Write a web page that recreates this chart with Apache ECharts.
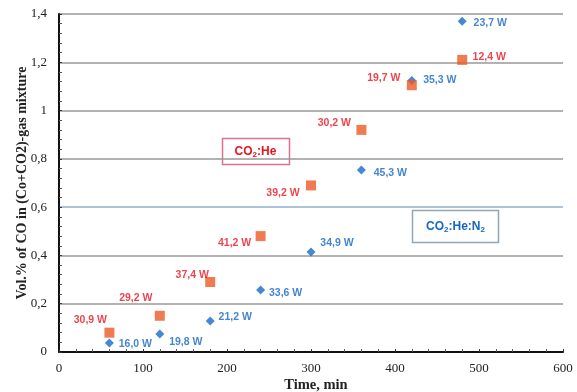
<!DOCTYPE html>
<html><head><meta charset="utf-8">
<script src="https://cdn.jsdelivr.net/npm/echarts@6/dist/echarts.min.js"></script>
<style>html,body{margin:0;padding:0;background:#fff}#c{width:577px;height:392px}</style>
</head><body><div id="c"></div>
<script>
// Data
const timeMin = [60, 120, 180, 240, 300, 360, 420, 480];
const coHe = [0.08, 0.15, 0.29, 0.48, 0.69, 0.92, 1.105, 1.21];
const coHeLabels = ['30,9 W', '29,2 W', '37,4 W', '41,2 W', '39,2 W', '30,2 W', '19,7 W', '12,4 W'];
const coHeN2 = [0.037, 0.075, 0.128, 0.257, 0.414, 0.754, 1.125, 1.37];
const coHeN2Labels = ['16,0 W', '19,8 W', '21,2 W', '33,6 W', '34,9 W', '45,3 W', '35,3 W', '23,7 W'];
const xTicks = [0, 100, 200, 300, 400, 500, 600];
const yTicks = ['0', '0,2', '0,4', '0,6', '0,8', '1', '1,2', '1,4'];

// Label layout (offsets in px from the marker)
const coHeLabelOffsets = [[-19,-13],[-24,-18],[-18,-7],[-26,7],[-28,8],[-27,-7],[-28,-7],[27,-3]];
const coHeN2LabelOffsets = [[26,1],[26,8],[25,-4],[25,3],[26,-9],[29,3],[28,0],[28,2]];

const chart = echarts.init(document.getElementById('c'), null, {renderer: 'canvas'});

function mk(vals, labels, offs, color) {
  return timeMin.map((t, i) => ({
    value: [t, vals[i]],
    label: {show: true, position: 'inside', offset: offs[i], formatter: labels[i],
      color: color, fontSize: 10.5, fontWeight: 'bold', fontFamily: 'Liberation Sans, Arial, sans-serif'}
  }));
}

const gridColors = ['#888', '#999', '#999', '#8fb0d0', '#999', '#999', '#999', '#999'];

chart.setOption({
  animation: false,
  backgroundColor: '#fff',
  grid: {left: 59, right: 14, top: 14, bottom: 40, containLabel: false, outerBoundsMode: 'none'},
  xAxis: {
    type: 'value', min: 0, max: 600, interval: 100,
    name: 'Time, min', nameLocation: 'middle', nameGap: 26,
    nameMoveOverlap: false,
    nameTextStyle: {fontFamily: 'Liberation Serif, Times New Roman, serif', fontWeight: 'bold', fontSize: 14.5, color: '#222', padding: [0, 0, 0, 10]},
    axisLine: {show: true, lineStyle: {color: '#111', width: 2}},
    axisTick: {show: true, inside: true, length: 3, lineStyle: {color: '#333'}},
    minorTick: {show: true, splitNumber: 5, length: 3, lineStyle: {color: '#555'}},
    splitLine: {show: false},
    axisLabel: {formatter: v => String(v), fontFamily: 'Liberation Serif, Times New Roman, serif', fontSize: 13, color: '#222', margin: 10}
  },
  yAxis: {
    type: 'value', min: 0, max: 1.4, interval: 0.2,
    name: 'Vol.% of CO in (Co+CO2)-gas mixture', nameLocation: 'middle', nameGap: 30,
    nameMoveOverlap: false,
    nameTextStyle: {fontFamily: 'Liberation Serif, Times New Roman, serif', fontWeight: 'bold', fontSize: 14, color: '#222'},
    axisLine: {show: true, lineStyle: {color: '#111', width: 2}},
    axisTick: {show: true, inside: true, length: 3, lineStyle: {color: '#333'}},
    minorTick: {show: true, splitNumber: 5, length: 3, lineStyle: {color: '#555'}},
    splitLine: {show: true, lineStyle: {color: gridColors, width: 1.5}},
    axisLabel: {formatter: (v) => yTicks[Math.round(v / 0.2)], fontFamily: 'Liberation Serif, Times New Roman, serif', fontSize: 13, color: '#222', margin: 12}
  },
  series: [
    {type: 'scatter', name: 'CO2:He:N2', symbol: 'diamond', symbolSize: 9,
      itemStyle: {color: '#176bc8'}, data: mk(coHeN2, coHeN2Labels, coHeN2LabelOffsets, '#1467c4')},
    {type: 'scatter', name: 'CO2:He', symbol: 'rect', symbolSize: 10,
      itemStyle: {color: '#ee5a26'}, data: mk(coHe, coHeLabels, coHeLabelOffsets, '#e8141f')}
  ],
  graphic: [
    {type: 'rect', shape: {x: 222.5, y: 138.5, width: 67, height: 26}, style: {fill: '#fff', stroke: '#e07090', lineWidth: 1.5}},
    {type: 'text', x: 255.5, y: 151.5, style: {
      text: '{a|CO}{s|2}{a|:He}', align: 'center', verticalAlign: 'middle',
      rich: {a: {fill: '#e8141f', fontSize: 12, fontWeight: 'bold', fontFamily: 'Liberation Sans, Arial, sans-serif'},
             s: {fill: '#e8141f', fontSize: 8, fontWeight: 'bold', fontFamily: 'Liberation Sans, Arial, sans-serif', verticalAlign: 'bottom', padding: [6,0,0,0]}}}},
    {type: 'rect', shape: {x: 412.5, y: 210.5, width: 86, height: 32}, style: {fill: '#fff', stroke: '#8fa6b8', lineWidth: 1.5}},
    {type: 'text', x: 455.5, y: 226.5, style: {
      text: '{a|CO}{s|2}{a|:He:N}{s|2}', align: 'center', verticalAlign: 'middle',
      rich: {a: {fill: '#1467c4', fontSize: 12, fontWeight: 'bold', fontFamily: 'Liberation Sans, Arial, sans-serif'},
             s: {fill: '#1467c4', fontSize: 8, fontWeight: 'bold', fontFamily: 'Liberation Sans, Arial, sans-serif', verticalAlign: 'bottom', padding: [6,0,0,0]}}}}
  ]
});
</script></body></html>
